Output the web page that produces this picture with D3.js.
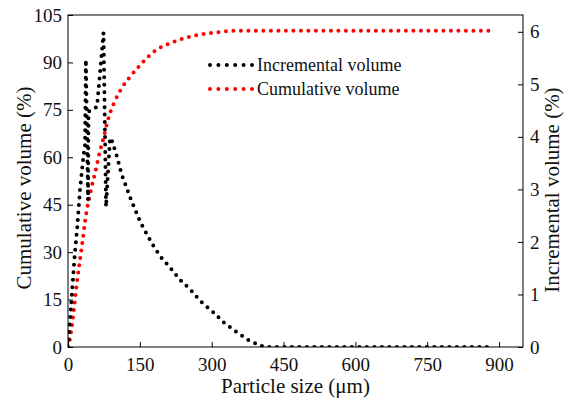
<!DOCTYPE html>
<html>
<head>
<meta charset="utf-8">
<script src="https://cdn.jsdelivr.net/npm/d3@7"></script>
<style>
  body { margin: 0; background: #fff; }
</style>
</head>
<body>
<script>
// cumulative volume (%) vs particle size (µm)
const cumSize = [0, 4, 8, 12, 16, 20, 25, 30, 35, 40, 45, 50, 58, 66, 74, 81, 89, 98, 112, 131, 154, 182, 212, 241, 272, 310, 350, 880];
const cumValue = [0, 2.5, 6.5, 11.5, 17, 22, 27.5, 33, 39, 44, 47.5, 51, 56, 61.5, 66, 70.5, 74.5, 77.8, 81.8, 85.7, 89.7, 93.7, 96, 97.6, 98.7, 99.5, 100, 100];

// incremental volume (%) vs particle size (µm)
const incSize = [0, 5.6, 9, 14, 19.4, 25, 29.9, 33.4, 35.5, 37.3, 41.8, 42.8, 60.6, 74.2, 79.4, 87.7, 91.3, 103, 112.2, 133, 151.9, 174.8, 192.2, 211.6, 232.5, 254.9, 275.7, 302.3, 325.9, 351, 378.7, 406.7, 422, 881];
const incValue = [0, 0.67, 1.12, 1.75, 2.29, 2.99, 3.43, 3.71, 3.85, 5.47, 2.8, 4.48, 4.57, 5.98, 2.67, 3.98, 3.94, 3.6, 3.28, 2.77, 2.36, 1.98, 1.73, 1.53, 1.29, 1.1, 0.88, 0.67, 0.46, 0.29, 0.12, 0.01, 0, 0];

const xTicks = [0, 150, 300, 450, 600, 750, 900];
const yLeftTicks = [0, 15, 30, 45, 60, 75, 90, 105];
const yRightTicks = [0, 1, 2, 3, 4, 5, 6];

const seriesNames = ["Incremental volume", "Cumulative volume"];
const seriesColors = ["#000000", "#ff0000"];

const width = 566;
const height = 404;
const plotLeft = 68;
const plotRight = 523;
const plotTop = 15;
const plotBottom = 347;
const font = "'Liberation Serif', 'Times New Roman', serif";

const x = d3.scaleLinear().domain([0, 950]).range([plotLeft, plotRight]);
const yL = d3.scaleLinear().domain([0, 105]).range([plotBottom, plotTop]);
const yR = d3.scaleLinear().domain([0, 6.32]).range([plotBottom, plotTop]);

const svg = d3
  .select("body")
  .append("svg")
  .attr("width", width)
  .attr("height", height)
  .style("font-family", font);

svg
  .append("clipPath")
  .attr("id", "plot")
  .append("rect")
  .attr("x", plotLeft)
  .attr("y", plotTop)
  .attr("width", plotRight - plotLeft)
  .attr("height", plotBottom - plotTop);

const styleAxis = (g, size) => {
  g.select(".domain").remove();
  g.selectAll(".tick line").attr("stroke", "#000");
  g.selectAll(".tick text")
    .attr("fill", "#111")
    .style("font-family", font)
    .style("font-size", size + "px");
};

svg
  .append("g")
  .attr("transform", `translate(0 ${plotBottom})`)
  .call(d3.axisBottom(x).tickValues(xTicks).tickSizeInner(-5).tickSizeOuter(0).tickPadding(11))
  .call((g) => styleAxis(g, 19));

svg
  .append("g")
  .attr("transform", `translate(${plotLeft} 0)`)
  .call(d3.axisLeft(yL).tickValues(yLeftTicks).tickSizeInner(-5).tickSizeOuter(0).tickPadding(6))
  .call((g) => styleAxis(g, 19));

svg
  .append("g")
  .attr("transform", `translate(${plotRight} 0)`)
  .call(
    d3
      .axisRight(yR)
      .tickValues(yRightTicks)
      .tickFormat(d3.format("d"))
      .tickSizeInner(-5)
      .tickSizeOuter(0)
      .tickPadding(7)
  )
  .call((g) => styleAxis(g, 19));

svg
  .append("rect")
  .attr("x", plotLeft)
  .attr("y", plotTop)
  .attr("width", plotRight - plotLeft)
  .attr("height", plotBottom - plotTop)
  .attr("fill", "none")
  .attr("stroke", "#000")
  .attr("stroke-width", 1);

const dotted = (path, color, gap) =>
  path
    .attr("fill", "none")
    .attr("stroke", color)
    .attr("stroke-width", 4)
    .attr("stroke-linecap", "round")
    .attr("stroke-dasharray", `0 ${gap}`);

const incLine = d3
  .line()
  .x((i) => x(incSize[i]))
  .y((i) => yR(incValue[i]));

const cumLine = d3
  .line()
  .x((i) => x(cumSize[i]))
  .y((i) => yL(cumValue[i]))
  .curve(d3.curveMonotoneX);

const plot = svg.append("g").attr("clip-path", "url(#plot)");

plot
  .append("path")
  .attr("d", cumLine(d3.range(cumSize.length)))
  .call(dotted, seriesColors[1], 7.5);

plot
  .append("path")
  .attr("d", incLine(d3.range(incSize.length)))
  .call(dotted, seriesColors[0], 7.5);

// legend
const legend = svg
  .append("g")
  .selectAll("g")
  .data(seriesNames)
  .enter()
  .append("g")
  .attr("transform", (_, i) => `translate(210 ${65 + i * 24})`);

legend
  .append("path")
  .attr("d", "M0 0 H42")
  .each(function (_, i) {
    d3.select(this).call(dotted, seriesColors[i], 8.4);
  });

legend
  .append("text")
  .attr("x", 47)
  .attr("dominant-baseline", "central")
  .attr("fill", "#111")
  .style("font-size", "18px")
  .text((d) => d);

// axis titles
svg
  .append("text")
  .attr("x", (plotLeft + plotRight) / 2)
  .attr("y", 393)
  .attr("text-anchor", "middle")
  .attr("fill", "#111")
  .style("font-size", "21px")
  .text("Particle size (\u03bcm)");

svg
  .append("text")
  .attr("transform", "translate(24 188) rotate(-90)")
  .attr("text-anchor", "middle")
  .attr("dominant-baseline", "central")
  .attr("fill", "#111")
  .style("font-size", "21px")
  .text("Cumulative volume (%)");

svg
  .append("text")
  .attr("transform", "translate(552 190) rotate(-90)")
  .attr("text-anchor", "middle")
  .attr("dominant-baseline", "central")
  .attr("fill", "#111")
  .style("font-size", "21px")
  .text("Incremental volume (%)");
</script>
</body>
</html>
